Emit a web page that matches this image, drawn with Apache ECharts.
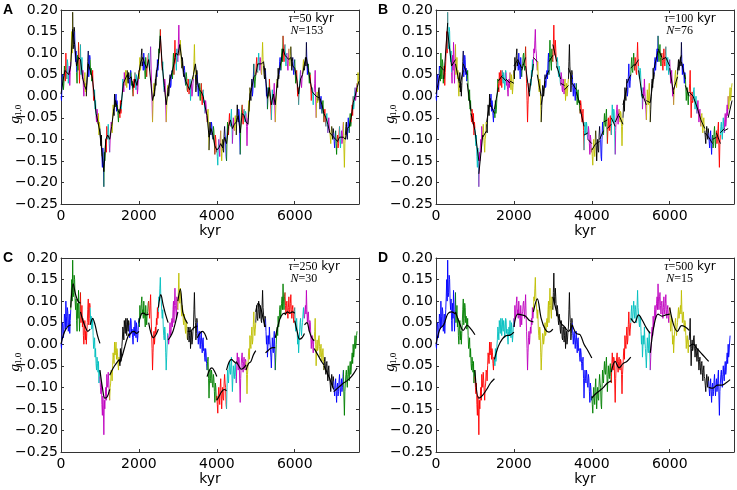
<!DOCTYPE html>
<html>
<head>
<meta charset="utf-8">
<script src="https://cdn.jsdelivr.net/npm/echarts@6/dist/echarts.min.js"></script>
<style>
  html, body { margin: 0; padding: 0; background: #ffffff; }
  #chart { width: 737px; height: 490px; }
</style>
</head>
<body>
<div id="chart"></div>
<script>
const STEP = 12.5;
const g10 = [
   0.000, -0.010,  0.020,  0.050,  0.045,  0.015,  0.030,  0.070,  0.060,  0.035,  0.100,  0.065,  0.040,  0.085,  0.075,  0.030,  0.050,  0.070,  0.025,  0.055,
   0.080,  0.110,  0.150,  0.100,  0.195,  0.110,  0.120,  0.160,  0.150,  0.100,  0.080,  0.105,  0.055,  0.030,  0.095,  0.060,  0.125,  0.080,  0.030,  0.070,
   0.120,  0.050,  0.065,  0.090,  0.040,  0.060,  0.020,  0.000,  0.035,  0.055,  0.010,  0.030,  0.000,  0.025,  0.050,  0.080,  0.105,  0.045,  0.060,  0.095,
   0.085,  0.050,  0.065,  0.035,  0.040,  0.060,  0.020, -0.010,  0.000,  0.015, -0.030, -0.010, -0.045, -0.060, -0.030, -0.045, -0.065, -0.040, -0.090, -0.060,
  -0.075, -0.100, -0.115, -0.090, -0.140, -0.165, -0.120, -0.150, -0.210, -0.130, -0.150, -0.120, -0.100, -0.130, -0.070, -0.090, -0.100, -0.065, -0.085, -0.110,
  -0.130, -0.100, -0.090, -0.060, -0.065, -0.085, -0.050, -0.020, -0.030, -0.045,  0.005, -0.025, -0.015,  0.005, -0.035, -0.010, -0.020, -0.045, -0.060, -0.030,
  -0.035, -0.050, -0.010, -0.040, -0.030, -0.005,  0.010,  0.040,  0.030,  0.010,  0.055,  0.040,  0.025,  0.060,  0.045,  0.020,  0.060,  0.040,  0.030,  0.055,
   0.045,  0.015,  0.025,  0.060,  0.055,  0.025,  0.035,  0.015,  0.000,  0.030,  0.040,  0.020,  0.055,  0.030,  0.015,  0.050,  0.035,  0.005,  0.020,  0.045,
   0.060,  0.040,  0.090,  0.060,  0.070,  0.095,  0.110,  0.070,  0.080,  0.060,  0.100,  0.075,  0.060,  0.040,  0.090,  0.065,  0.045,  0.070,  0.075,  0.095,
   0.100,  0.075,  0.060,  0.090,  0.115,  0.070,  0.030, -0.010, -0.060, -0.020,  0.015,  0.030,  0.000,  0.020,  0.040,  0.025,  0.060,  0.045,  0.085,  0.060,
   0.075,  0.110,  0.100,  0.130,  0.155,  0.110,  0.100,  0.075,  0.060,  0.080,  0.040,  0.020,  0.010,  0.040,  0.030, -0.020, -0.060, -0.030,  0.000,  0.025,
   0.020,  0.000,  0.010,  0.035,  0.050,  0.020,  0.025,  0.055,  0.060,  0.040,  0.080,  0.100,  0.050,  0.090,  0.130,  0.090,  0.075,  0.060,  0.110,  0.085,
   0.080,  0.120,  0.165,  0.110,  0.095,  0.130,  0.110,  0.080,  0.065,  0.090,  0.080,  0.055,  0.045,  0.070,  0.060,  0.035,  0.025,  0.055,  0.045,  0.015,
   0.010,  0.040,  0.035,  0.005,  0.020,  0.040, -0.010,  0.015,  0.030,  0.000,  0.010,  0.030,  0.040,  0.080,  0.120,  0.070,  0.050,  0.010,  0.025,  0.060,
   0.050,  0.020,  0.000,  0.025,  0.030,  0.005, -0.010,  0.015,  0.030,  0.000, -0.020,  0.010,  0.015, -0.015, -0.010, -0.030, -0.040, -0.010, -0.020, -0.045,
  -0.060, -0.040, -0.030, -0.080, -0.125, -0.085, -0.060, -0.080, -0.090, -0.060, -0.070, -0.095, -0.100, -0.070, -0.080, -0.110, -0.135, -0.090, -0.100, -0.130,
  -0.120, -0.140, -0.160, -0.120, -0.100, -0.125, -0.140, -0.100, -0.080, -0.115, -0.150, -0.120, -0.100, -0.125, -0.130, -0.090, -0.070, -0.090, -0.100, -0.140,
  -0.150, -0.100, -0.060, -0.080, -0.090, -0.060, -0.040, -0.065, -0.070, -0.045, -0.030, -0.070, -0.110, -0.080, -0.050, -0.070, -0.080, -0.055, -0.045, -0.075,
  -0.090, -0.050, -0.020, -0.045, -0.060, -0.030, -0.035, -0.090, -0.135, -0.080, -0.050, -0.030, -0.020, -0.045, -0.065, -0.040, -0.030, -0.050, -0.060, -0.035,
  -0.040, -0.070, -0.115, -0.070, -0.050, -0.025, -0.010, -0.035,  0.020,  0.000, -0.010,  0.020,  0.040,  0.000,  0.010,  0.045,  0.075,  0.040,  0.020,  0.035,
   0.050,  0.075,  0.090,  0.060,  0.055,  0.080,  0.100,  0.075,  0.060,  0.090,  0.080,  0.055,  0.050,  0.090,  0.125,  0.085,  0.070,  0.050,  0.040,  0.065,
   0.060,  0.030,  0.000,  0.020, -0.030, -0.005,  0.020,  0.000,  0.040,  0.010, -0.010, -0.030, -0.055, -0.020,  0.015, -0.010, -0.020,  0.010,  0.030, -0.020,
  -0.060, -0.030,  0.000,  0.030,  0.040,  0.020,  0.065,  0.040,  0.050,  0.080,  0.090,  0.060,  0.060,  0.095,  0.110,  0.080,  0.140,  0.100,  0.080,  0.110,
   0.120,  0.090,  0.070,  0.095,  0.100,  0.075,  0.060,  0.085,  0.110,  0.080,  0.070,  0.095,  0.115,  0.080,  0.060,  0.080,  0.090,  0.065,  0.050,  0.075,
   0.085,  0.055,  0.030,  0.050,  0.060,  0.030,  0.000,  0.020, -0.020,  0.005,  0.030,  0.050,  0.060,  0.035,  0.020,  0.040,  0.050,  0.070,  0.085,  0.060,
   0.060,  0.080,  0.090,  0.070,  0.125,  0.080,  0.050,  0.070,  0.075,  0.050,  0.030,  0.055,  0.050,  0.020, -0.010,  0.010,  0.020,  0.000, -0.020,  0.010,
   0.010,  0.030,  0.060,  0.000, -0.050, -0.010,  0.010, -0.015, -0.010,  0.015,  0.020, -0.005, -0.030, -0.010,  0.000, -0.025, -0.040, -0.020, -0.010, -0.035,
  -0.060, -0.040, -0.030, -0.055, -0.070, -0.045, -0.040, -0.065, -0.085, -0.060, -0.050, -0.075, -0.080, -0.095, -0.110, -0.085, -0.070, -0.090, -0.100, -0.075,
  -0.085, -0.105, -0.120, -0.095, -0.080, -0.110, -0.135, -0.100, -0.090, -0.120, -0.110, -0.085, -0.070, -0.100, -0.120, -0.095, -0.080, -0.110, -0.100, -0.075,
  -0.060, -0.120, -0.165, -0.110, -0.090, -0.070, -0.060, -0.085, -0.100, -0.070, -0.050, -0.075, -0.085, -0.055, -0.040, -0.070, -0.060, -0.035, -0.020, -0.045,
   0.000, -0.030, -0.020,  0.005,  0.020, -0.010,  0.000,  0.020,  0.030,  0.010,  0.055,  0.040,  0.030
];

const letters = ['A', 'B', 'C', 'D'];
const tau = [50, 100, 250, 500];
const nSeg = [153, 76, 30, 15];
const dataEnd = [7650, 7600, 7600, 7550];
const xTicks = [0, 2000, 4000, 6000];
const yTicks = [-0.25, -0.20, -0.15, -0.10, -0.05, 0.00, 0.05, 0.10, 0.15, 0.20];

// fitted curves
// A: one value per 50 kyr segment boundary
const fitA = [
   0.005,  0.035,  0.060,  0.060,  0.050,  0.070,  0.155,  0.120,  0.070,  0.090,
   0.085,  0.045,  0.025,  0.015,  0.075,  0.075,  0.045,  0.005, -0.040, -0.060,
  -0.085, -0.130, -0.175, -0.100, -0.090, -0.100, -0.070, -0.035, -0.010, -0.030,
  -0.040, -0.015,  0.030,  0.040,  0.050,  0.040,  0.045,  0.020,  0.040,  0.025,
   0.055,  0.080,  0.090,  0.075,  0.065,  0.085,  0.085, -0.010,  0.010,  0.055,
   0.080,  0.140,  0.070,  0.025, -0.020,  0.015,  0.040,  0.055,  0.075,  0.100,
   0.095,  0.120,  0.085,  0.055,  0.035,  0.025,  0.015,  0.015,  0.050,  0.075,
   0.035,  0.015,  0.010,  0.000, -0.025, -0.045, -0.095, -0.075, -0.090, -0.115,
  -0.125, -0.120, -0.110, -0.120, -0.095, -0.110, -0.070, -0.055, -0.075, -0.065,
  -0.060, -0.045, -0.085, -0.040, -0.045, -0.060, -0.065,  0.005,  0.020,  0.045,
   0.050,  0.075,  0.075,  0.075,  0.080,  0.045, -0.005,  0.020, -0.020,  0.005,
  -0.020,  0.030,  0.060,  0.080,  0.110,  0.095,  0.090,  0.085,  0.090,  0.070,
   0.065,  0.040,  0.005,  0.040,  0.050,  0.075,  0.090,  0.060,  0.035,  0.010,
   0.005,  0.000,  0.000, -0.005, -0.020, -0.040, -0.050, -0.065, -0.085, -0.085,
  -0.095, -0.100, -0.105, -0.095, -0.095, -0.095, -0.100, -0.075, -0.070, -0.050,
  -0.015,  0.000,  0.020,  0.035
];
// B: start and end value of each 100 kyr segment
const fitB = [
   0.005,  0.050,   0.070,  0.060,   0.040,  0.170,   0.150,  0.070,   0.070,  0.085,
   0.075,  0.030,   0.020,  0.060,   0.075,  0.050,   0.030, -0.035,  -0.040, -0.080,
  -0.080, -0.150,  -0.180, -0.090,  -0.095, -0.080,  -0.060, -0.005,  -0.020, -0.040,
  -0.030,  0.020,   0.035,  0.048,   0.045,  0.035,   0.040,  0.030,   0.035,  0.030,
   0.070,  0.085,   0.085,  0.065,   0.060,  0.090,   0.070,  0.000,   0.010,  0.075,
   0.090,  0.080,   0.050,  0.000,  -0.020,  0.035,   0.040,  0.060,   0.080,  0.095,
   0.120,  0.080,   0.070,  0.040,   0.030,  0.025,   0.015,  0.025,   0.065,  0.040,
   0.030,  0.015,   0.010, -0.020,  -0.030, -0.070,  -0.090, -0.085,  -0.100, -0.110,
  -0.125, -0.110,  -0.110, -0.105,  -0.100, -0.080,  -0.060, -0.055,  -0.075, -0.065,
  -0.050, -0.070,  -0.060, -0.040,  -0.045, -0.065,  -0.020,  0.020,   0.030,  0.050,
   0.065,  0.075,   0.070,  0.085,   0.060, -0.005,   0.005, -0.020,  -0.010, -0.015,
  -0.015,  0.055,   0.065,  0.105,   0.110,  0.090,   0.085,  0.090,   0.090,  0.070,
   0.065,  0.005,   0.015,  0.045,   0.060,  0.095,   0.080,  0.040,   0.025,  0.000,
   0.010,  0.000,   0.000, -0.025,  -0.025, -0.055,  -0.055, -0.075,  -0.085, -0.095,
  -0.095, -0.110,  -0.100, -0.095,  -0.085, -0.110,  -0.085, -0.075,  -0.080, -0.075,
  -0.050, -0.010
];
// C: five values across each 250 kyr segment
const fitC = [
   0.000,  0.022,  0.035,  0.042,  0.045,
   0.085,  0.140,  0.115,  0.100,  0.095,
   0.075,  0.055,  0.040,  0.030,  0.035,
   0.045,  0.060,  0.045,  0.020,  0.002,
  -0.060, -0.100, -0.125, -0.122, -0.105,
  -0.072, -0.060, -0.050, -0.042, -0.035,
  -0.045, -0.030, -0.010,  0.010,  0.025,
   0.020,  0.028,  0.030,  0.025,  0.030,
   0.050,  0.070,  0.072,  0.068,  0.070,
   0.050,  0.025,  0.015,  0.022,  0.035,
   0.085,  0.115,  0.090,  0.068,  0.050,
   0.010,  0.018,  0.030,  0.050,  0.075,
   0.100,  0.128,  0.075,  0.058,  0.048,
   0.030,  0.030,  0.035,  0.040,  0.042,
   0.015,  0.025,  0.030,  0.025,  0.010,
  -0.075, -0.060, -0.055, -0.062, -0.075,
  -0.130, -0.120, -0.110, -0.105, -0.108,
  -0.060, -0.042, -0.035, -0.040, -0.045,
  -0.040, -0.050, -0.058, -0.055, -0.048,
  -0.060, -0.045, -0.040, -0.025, -0.015,
   0.075,  0.095,  0.085,  0.060,  0.040,
  -0.020, -0.015, -0.010, -0.008, -0.008,
   0.015,  0.040,  0.060,  0.070,  0.072,
   0.068,  0.075,  0.072,  0.075,  0.072,
   0.055,  0.030,  0.012,  0.015,  0.025,
   0.045,  0.050,  0.030,  0.015,  0.008,
  -0.010, -0.020, -0.030, -0.040, -0.048,
  -0.050, -0.062, -0.075, -0.090, -0.105,
  -0.110, -0.105, -0.100, -0.095, -0.090,
  -0.090, -0.085, -0.078, -0.068, -0.055
];
// D: six values across each 500 kyr segment
const fitD = [
   0.000,  0.035,  0.045,  0.070,  0.075,  0.070,
   0.075,  0.050,  0.032,  0.044,  0.035,  0.022,
  -0.060, -0.125, -0.118, -0.105, -0.090, -0.080,
  -0.035, -0.005,  0.012,  0.020,  0.021,  0.028,
   0.040,  0.070,  0.068,  0.065,  0.055,  0.052,
   0.075,  0.105,  0.060,  0.035,  0.028,  0.035,
   0.110,  0.075,  0.050,  0.040,  0.030,  0.045,
   0.045,  0.025,  0.022,  0.000, -0.015, -0.032,
  -0.125, -0.115, -0.108, -0.100, -0.090, -0.085,
  -0.065, -0.040, -0.055, -0.045, -0.040, -0.030,
   0.060,  0.050,  0.068,  0.055,  0.038,  0.025,
  -0.020,  0.045,  0.070,  0.065,  0.068,  0.070,
   0.085,  0.045,  0.030,  0.043,  0.040,  0.032,
  -0.005,  0.000, -0.010, -0.020, -0.030, -0.040,
  -0.100, -0.102, -0.095, -0.095, -0.090, -0.082
];
const fits = [fitA, fitB, fitC, fitD];
const fitPts = [2, 2, 5, 6];   // values per segment (A shares its boundaries)

const COLORS = ['#0000ff', '#008000', '#ff0000', '#00bfbf', '#bf00bf', '#bfbf00', '#000000'];
const FONT = 'DejaVu Sans';
const SERIF = 'Liberation Serif';
const XMAX = 7650;

// panel boxes in px
const boxes = [
  { left: 61,  top: 10,  width: 298, height: 194 },
  { left: 436, top: 10,  width: 299, height: 194 },
  { left: 61,  top: 258, width: 298, height: 194 },
  { left: 436, top: 258, width: 299, height: 194 }
];

function segEnd(p, s) {
  return s === nSeg[p] - 1 ? dataEnd[p] : (s + 1) * tau[p];
}

function dataSeries(p) {
  const byColor = COLORS.map(() => []);
  for (let s = 0; s < nSeg[p]; s++) {
    const t0 = s * tau[p], t1 = segEnd(p, s);
    const arr = byColor[s % COLORS.length];
    for (let i = 0; i < g10.length; i++) {
      const t = i * STEP;
      if (t >= t0 && t <= t1) arr.push([t, g10[i]]);
    }
    arr.push([t1, '-']);
  }
  return COLORS.map((c, k) => ({
    type: 'line', xAxisIndex: p, yAxisIndex: p, data: byColor[k],
    symbol: 'none', silent: true, connectNulls: false, z: 2,
    lineStyle: { color: c, width: 1, opacity: 0.9 }
  }));
}

function fitSeries(p) {
  const f = fits[p], pts = [];
  if (p === 0) {
    f.forEach((v, i) => pts.push([i * tau[0], v]));
  } else {
    const k = fitPts[p];
    for (let s = 0; s < nSeg[p]; s++) {
      const t0 = s * tau[p], t1 = segEnd(p, s);
      for (let j = 0; j < k; j++) {
        pts.push([t0 + (t1 - t0) * j / (k - 1), f[s * k + j]]);
      }
      pts.push([t1, '-']);
    }
  }
  return {
    type: 'line', xAxisIndex: p, yAxisIndex: p, data: pts,
    symbol: 'none', silent: true, connectNulls: false, z: 5,
    smooth: p >= 2 ? 0.35 : false,
    lineStyle: { color: '#000000', width: p >= 2 ? 1.2 : 1 }
  };
}

const AXIS_COLOR = '#333333';
const tickStyle = { show: true, inside: true, length: 3, lineStyle: { color: AXIS_COLOR, width: 1 } };
const lineStyle = { show: true, onZero: false, lineStyle: { color: AXIS_COLOR, width: 1 } };

const xAxes = [], yAxes = [], series = [], graphics = [];
['bottom', 'top'].forEach(pos => {
  boxes.forEach((b, p) => {
    xAxes.push({
      type: 'value', gridIndex: p, position: pos, min: 0, max: XMAX, interval: 2000,
      axisLine: lineStyle, axisTick: tickStyle, splitLine: { show: false },
      axisLabel: {
        show: pos === 'bottom', margin: 5, fontSize: 14, fontFamily: FONT, color: '#000',
        formatter: v => (xTicks.indexOf(v) >= 0 ? String(v) : '')
      },
      name: pos === 'bottom' ? 'kyr' : '', nameLocation: 'middle', nameGap: 20,
      nameTextStyle: { fontSize: 14, fontFamily: FONT, color: '#000' }
    });
  });
});
['left', 'right'].forEach(pos => {
  boxes.forEach((b, p) => {
    yAxes.push({
      type: 'value', gridIndex: p, position: pos, min: -0.25, max: 0.20, interval: 0.05,
      axisLine: lineStyle, axisTick: tickStyle, splitLine: { show: false },
      axisLabel: {
        show: pos === 'left', margin: 3, fontSize: 14, fontFamily: FONT, color: '#000',
        formatter: v => {
          const near = yTicks.find(t => Math.abs(t - v) < 1e-6);
          if (near === undefined) return '';
          return (near < -1e-9 ? '\u2212' : '') + Math.abs(near).toFixed(2);
        }
      }
    });
  });
});

boxes.forEach((b, p) => {
  dataSeries(p).forEach(s => series.push(s));
  series.push(fitSeries(p));

  // panel letter
  graphics.push({
    type: 'text', left: b.left - 58, top: b.top - 7, silent: true,
    style: { text: letters[p], fontFamily: 'Liberation Sans', fontWeight: 'bold', fontSize: 14, fill: '#000' }
  });
  // y axis label g_{1,0}
  graphics.push({
    type: 'text', x: b.left - 46, y: b.top + 104, rotation: Math.PI / 2, silent: true,
    style: {
      text: '{g|g}{s|1,0}', align: 'center', verticalAlign: 'middle',
      rich: {
        g: { fontFamily: SERIF, fontStyle: 'italic', fontSize: 15, fill: '#000', lineHeight: 16, verticalAlign: 'middle' },
        s: { fontFamily: SERIF, fontSize: 9, fill: '#000', lineHeight: 16, verticalAlign: 'bottom', padding: [4, 0, 0, 0] }
      }
    }
  });
  // tau / N annotation
  const ax = b.left + 0.77 * b.width - 2;
  graphics.push({
    type: 'text', x: ax, y: b.top + 9, silent: true,
    style: {
      text: '{m|\u03c4}{r|=' + tau[p] + '}{s| kyr}', verticalAlign: 'middle',
      rich: {
        m: { fontFamily: SERIF, fontStyle: 'italic', fontSize: 12, lineHeight: 14, fill: '#000' },
        r: { fontFamily: SERIF, fontSize: 12, lineHeight: 14, fill: '#000' },
        s: { fontFamily: FONT, fontSize: 12, lineHeight: 14, fill: '#000' }
      }
    }
  });
  graphics.push({
    type: 'text', x: ax + 2, y: b.top + 21, silent: true,
    style: {
      text: '{m|N}{r|=' + nSeg[p] + '}', verticalAlign: 'middle',
      rich: {
        m: { fontFamily: SERIF, fontStyle: 'italic', fontSize: 12, lineHeight: 14, fill: '#000' },
        r: { fontFamily: SERIF, fontSize: 12, lineHeight: 14, fill: '#000' }
      }
    }
  });
});

const chart = echarts.init(document.getElementById('chart'), null, { renderer: 'canvas' });
chart.setOption({
  animation: false,
  backgroundColor: '#ffffff',
  grid: boxes.map(b => Object.assign({ containLabel: false, show: false }, b)),
  xAxis: xAxes,
  yAxis: yAxes,
  series: series,
  graphic: graphics
});
</script>
</body>
</html>
